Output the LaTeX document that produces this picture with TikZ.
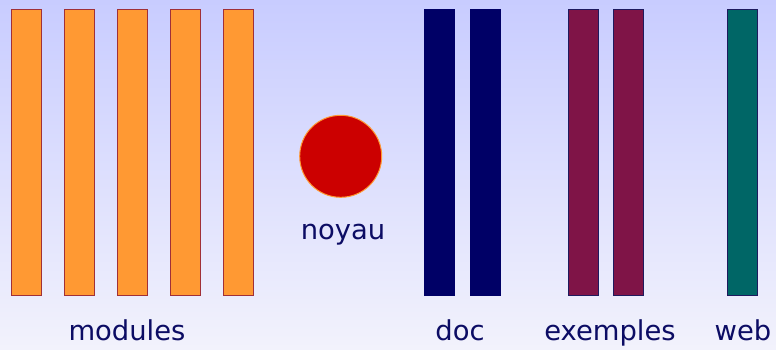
\documentclass[tikz,border=0pt]{standalone}
\usepackage{fontspec}
\setmainfont{DejaVu Sans}
\usetikzlibrary{positioning}
\definecolor{bgtop}{RGB}{200,204,255}
\definecolor{bgbottom}{RGB}{242,242,252}
\definecolor{modorange}{RGB}{255,153,51}
\definecolor{modedge}{RGB}{160,48,56}
\definecolor{docnavy}{RGB}{0,0,102}
\definecolor{exmaroon}{RGB}{127,20,71}
\definecolor{webteal}{RGB}{0,102,102}
\definecolor{edgenavy}{RGB}{30,26,94}
\definecolor{noyaured}{RGB}{204,0,0}
\definecolor{labelnavy}{RGB}{12,12,100}

\begin{document}
\begin{tikzpicture}[x=1pt,y=-1pt,
    bar/.style = {draw, rectangle, inner sep=0pt, line width=1pt,
                  minimum width=30pt, minimum height=286pt},
    modbar/.style = {bar, fill=modorange, draw=modedge},
    docbar/.style = {bar, fill=docnavy, draw=docnavy},
    exbar/.style = {bar, fill=exmaroon, draw=edgenavy},
    webbar/.style = {bar, fill=webteal, draw=edgenavy},
    lbl/.style = {text=labelnavy, font=\fontsize{27.4}{30}\selectfont, anchor=base, inner sep=0pt}]
    % background
    \shade[top color=bgtop, bottom color=bgbottom] (0,0) rectangle (776,349);
    \useasboundingbox (0,0) rectangle (776,349);
    % modules
    \node[modbar] (m1) at (26.5,152.5) {};
    \node[modbar] (m2) at (79.5,152.5) {};
    \node[modbar] (m3) at (132.5,152.5) {};
    \node[modbar] (m4) at (185.5,152.5) {};
    \node[modbar] (m5) at (238.5,152.5) {};
    \node[lbl] (modules) at (127,340) {modules};
    % noyau
    \node[draw=modorange, fill=noyaured, circle, line width=1pt,
          minimum size=82pt, inner sep=0pt] (core) at (340.7,156.3) {};
    \node[lbl] (noyau) at (343,239) {noyau};
    % doc
    \node[docbar] (d1) at (439.5,152.5) {};
    \node[docbar] (d2) at (485.5,152.5) {};
    \node[lbl] (doc) at (460,340) {doc};
    % exemples
    \node[exbar] (e1) at (583.5,152.5) {};
    \node[exbar] (e2) at (628.5,152.5) {};
    \node[lbl] (exemples) at (610,340) {exemples};
    % web
    \node[webbar] (w1) at (742.5,152.5) {};
    \node[lbl] (web) at (743,340) {web};
\end{tikzpicture}
\end{document}
